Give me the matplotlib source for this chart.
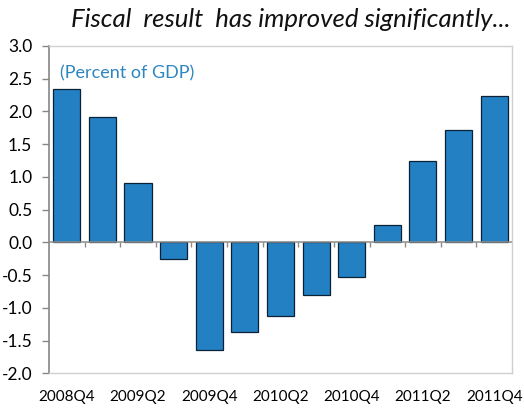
import numpy as np
import matplotlib
matplotlib.use("Agg")
import matplotlib.pyplot as plt

plt.rcParams['font.family'] = ['Lato', 'DejaVu Sans']

quarters = ['2008Q4', '2009Q1', '2009Q2', '2009Q3', '2009Q4', '2010Q1', '2010Q2',
            '2010Q3', '2010Q4', '2011Q1', '2011Q2', '2011Q3', '2011Q4']
fiscal_result = [2.34, 1.91, 0.90, -0.26, -1.64, -1.37, -1.13,
                 -0.80, -0.53, 0.27, 1.24, 1.71, 2.23]
y_ticks = [-2.0, -1.5, -1.0, -0.5, 0.0, 0.5, 1.0, 1.5, 2.0, 2.5, 3.0]

fig = plt.figure(figsize=(5.24, 4.13), dpi=100)
ax = fig.add_axes([0.0935, 0.096, 0.8835, 0.793])

x = np.arange(len(quarters))
ax.bar(x, fiscal_result, width=0.76, color='#2280C3', edgecolor='#0B2236',
       linewidth=0.9, zorder=3)

ax.set_xlim(-0.5, len(quarters) - 0.5)
ax.set_ylim(-2.0, 3.0)
ax.set_yticks(y_ticks)
ax.set_yticklabels([f'{v:.1f}' for v in y_ticks])
ax.tick_params(axis='y', direction='out', length=5, width=1, color='#868686',
               labelsize=12.5, pad=7)

# every other quarter is labelled below the frame
ax.set_xticks(x[::2])
ax.set_xticklabels(quarters[::2])
ax.tick_params(axis='x', length=0, labelsize=11, pad=12)

for side in ['top', 'right', 'bottom']:
    ax.spines[side].set_color('#D0D0D0')
    ax.spines[side].set_linewidth(1)
ax.spines['left'].set_color('#868686')
ax.spines['left'].set_linewidth(1.2)

# zero line with small ticks between categories
ax.axhline(0, color='#8C8C8C', linewidth=1.1, zorder=4)
bounds = x[:-1] + 0.5
ax.vlines(bounds, -0.07, 0, color='#8C8C8C', linewidth=1, zorder=4)

ax.text(0.024, 0.915, '(Percent of GDP)', transform=ax.transAxes,
        color='#2E86C1', fontsize=13, ha='left', va='center')

fig.text(0.975, 0.953, 'Fiscal  result  has improved significantly...',
         ha='right', va='center', fontsize=18.5, style='italic', color='#111111')

fig.savefig('out.png', dpi=100)
